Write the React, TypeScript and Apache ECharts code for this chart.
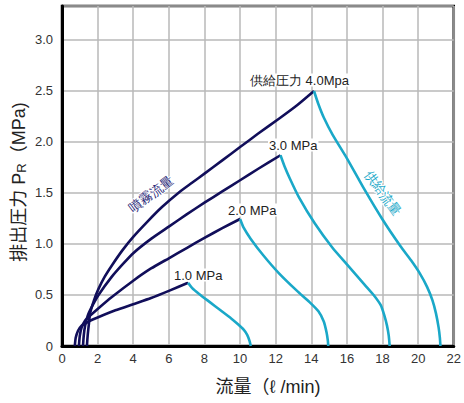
import React, { useEffect, useRef } from 'react';
import * as echarts from 'echarts';

// Axis definitions
const xMin = 0, xMax = 22, xInterval = 2;
const yMin = 0, yMax = 3.333, yInterval = 0.5;

// 噴霧流量 curves (spray flow) per supply pressure
const spray10 = [[0.72,0],[0.77,0.08],[0.9,0.15],[1.1,0.2],[1.4,0.23],[1.6,0.25],[2.0,0.28],[3.0,0.35],[4.0,0.41],[5.0,0.47],[6.0,0.54],[7.08,0.62]];
const spray20 = [[0.95,0],[1.0,0.1],[1.1,0.18],[1.3,0.25],[1.6,0.3],[2.05,0.37],[2.8,0.48],[4.0,0.64],[5.0,0.76],[6.0,0.86],[7.0,0.96],[8.0,1.06],[9.0,1.155],[10.0,1.245]];
const spray30 = [[1.18,0],[1.22,0.1],[1.3,0.2],[1.45,0.3],[1.6,0.36],[2.05,0.5],[2.8,0.68],[3.4,0.8],[4.0,0.91],[5.0,1.05],[6.0,1.17],[7.0,1.29],[8.0,1.405],[9.0,1.515],[10.0,1.625],[11.0,1.735],[12.27,1.87]];
const spray40 = [[1.4,0],[1.44,0.1],[1.5,0.2],[1.58,0.32],[1.8,0.45],[2.05,0.56],[2.4,0.68],[2.8,0.79],[3.4,0.94],[4.0,1.07],[4.8,1.22],[5.6,1.36],[6.6,1.51],[7.3,1.6],[8.0,1.69],[9.0,1.82],[10.0,1.95],[11.0,2.08],[12.2,2.23],[13.2,2.36],[14.15,2.5]];

// 供給流量 curves (supply flow) per supply pressure
const supply10 = [[7.08,0.62],[7.3,0.57],[7.7,0.51],[8.3,0.43],[8.9,0.35],[9.5,0.27],[9.9,0.21],[10.2,0.16],[10.4,0.11],[10.53,0.05],[10.6,0]];
const supply20 = [[10.0,1.245],[10.2,1.16],[10.6,1.05],[11.3,0.89],[12.2,0.71],[13.2,0.54],[13.9,0.43],[14.4,0.34],[14.7,0.24],[14.86,0.13],[14.93,0.05],[14.95,0]];
const supply30 = [[12.27,1.87],[12.5,1.76],[12.8,1.64],[13.3,1.46],[14.2,1.2],[15.2,0.96],[16.0,0.8],[17.0,0.6],[17.5,0.5],[17.9,0.4],[18.1,0.3],[18.25,0.2],[18.35,0.1],[18.4,0]];
const supply40 = [[14.15,2.5],[14.4,2.37],[14.7,2.24],[15.2,2.07],[16.0,1.84],[17.0,1.53],[18.0,1.24],[19.0,0.98],[19.6,0.84],[20.1,0.71],[20.5,0.58],[20.8,0.45],[21.0,0.32],[21.15,0.18],[21.22,0.08],[21.25,0]];

// Texts
const pressureLabels = ['1.0 MPa', '2.0 MPa', '3.0 MPa', '供給圧力 4.0Mpa'];
const sprayName = '噴霧流量';
const supplyName = '供給流量';
const xName = '流量（ℓ /min)';

const NAVY = '#110e5a';
const CYAN = '#1aa8c8';
const FONT = "Arial, 'Liberation Sans', 'Noto Sans CJK JP', sans-serif";

export default function App() {
  const ref = useRef<HTMLDivElement>(null);
  useEffect(() => {
    document.body.style.margin = '0';
    const chart = echarts.init(ref.current!, null, { renderer: 'svg' });
    const sprays = [spray10, spray20, spray30, spray40];
    const supplies = [supply10, supply20, supply30, supply40];
    const lineSeries = (data: number[][], color: string) => ({
      type: 'line',
      data,
      showSymbol: false,
      smooth: 0.2,
      lineStyle: { color, width: 2.6, join: 'round' },
      itemStyle: { color },
      z: 3,
    });
    const labelPos = [
      [173, 275],
      [227, 210],
      [268, 145],
      [249, 80],
    ];
    const option: any = {
      animation: false,
      textStyle: { fontFamily: FONT },
      grid: { left: 62, right: 8, top: 6, bottom: 57, show: true, borderColor: '#000', borderWidth: 2.5 },
      xAxis: {
        type: 'value', min: xMin, max: xMax, interval: xInterval,
        axisLine: { show: true, lineStyle: { color: '#000', width: 3 } },
        axisTick: { show: false },
        axisLabel: { fontSize: 13, color: '#333', margin: 6, fontFamily: FONT },
        splitLine: { show: true, lineStyle: { color: '#b8b8b8', width: 1.5 } },
      },
      yAxis: {
        type: 'value', min: yMin, max: yMax, interval: yInterval,
        axisLine: { show: true, lineStyle: { color: '#000', width: 3 } },
        axisTick: { show: false },
        axisLabel: {
          fontSize: 13, color: '#333', margin: 9, fontFamily: FONT,
          formatter: (v: number) => {
            if (Math.abs(v / yInterval - Math.round(v / yInterval)) > 1e-6) return '';
            return v === 0 ? '0' : v.toFixed(1);
          },
        },
        splitLine: { show: true, lineStyle: { color: '#b8b8b8', width: 1.5 } },
      },
      series: [
        ...sprays.map((d) => lineSeries(d, NAVY)),
        ...supplies.map((d) => lineSeries(d, CYAN)),
      ],
      graphic: [
        ...pressureLabels.map((t, i) => ({
          type: 'text', x: labelPos[i][0], y: labelPos[i][1], z: 10,
          style: { text: t, fontSize: 13, fill: '#222', font: `13px ${FONT}`, verticalAlign: 'middle', align: 'left', backgroundColor: '#fff', padding: [0, 1] },
        })),
        {
          type: 'text', x: 151, y: 194, rotation: (37 * Math.PI) / 180, z: 10,
          style: { text: sprayName, fontSize: 13, fill: '#2a2878', font: `13px ${FONT}`, align: 'center', verticalAlign: 'middle', stroke: '#fff', lineWidth: 2 },
        },
        {
          type: 'text', x: 383, y: 193, rotation: (-54 * Math.PI) / 180, z: 10,
          style: { text: supplyName, fontSize: 13, fill: CYAN, font: `13px ${FONT}`, align: 'center', verticalAlign: 'middle', stroke: '#fff', lineWidth: 2 },
        },
        {
          type: 'text', x: 19, y: 182, rotation: Math.PI / 2, z: 10,
          style: {
            text: '排出圧力 P{s|R}（MPa)', fontSize: 18, fontFamily: FONT, fill: '#222',
            align: 'center', verticalAlign: 'middle',
            rich: { s: { fontSize: 13, fontFamily: FONT, fill: '#222', verticalAlign: 'bottom' } },
          },
        },
        {
          type: 'text', x: 268, y: 387, z: 10,
          style: { text: xName, fontSize: 18, fontFamily: FONT, fill: '#222', align: 'center', verticalAlign: 'middle' },
        },
      ],
    };
    chart.setOption(option);
    return () => chart.dispose();
  }, []);
  return <div ref={ref} style={{ width: 464, height: 403 }} />;
}
